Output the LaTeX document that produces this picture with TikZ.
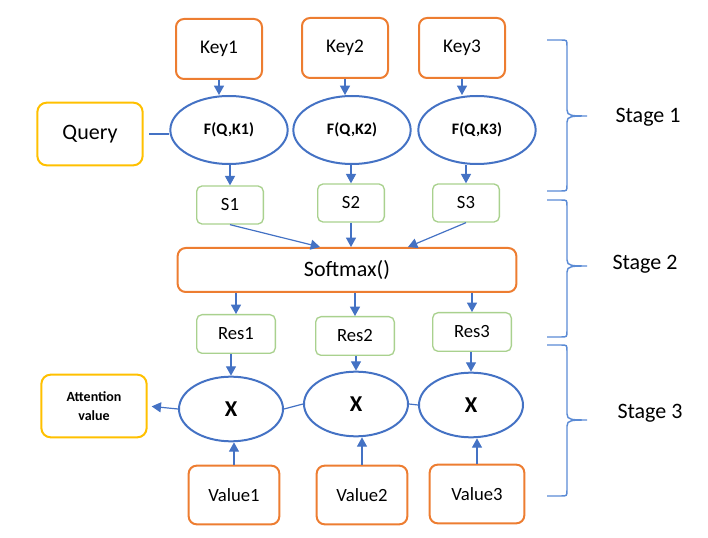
\documentclass[tikz,border=0pt]{standalone}
\usepackage{fontspec}
\setmainfont{Carlito}
\usetikzlibrary{shapes.geometric,arrows.meta,calc}
\definecolor{keyorange}{HTML}{ED7D31}
\definecolor{qyellow}{HTML}{FFC000}
\definecolor{sgreen}{HTML}{A9D18E}
\definecolor{lblue}{HTML}{4472C4}
\definecolor{bblue}{HTML}{5B8BD5}
\begin{document}
\begin{tikzpicture}[x=0.75pt,y=-0.75pt]
            \tikzstyle{inbox}=[draw=keyorange,line width=1.5pt,rounded corners=6pt,minimum width=64.5pt,minimum height=45pt,font=\fontsize{14.5}{16}\selectfont]
            \tikzstyle{outbox}=[draw=qyellow,line width=1.5pt,rounded corners=7pt,minimum width=79pt,minimum height=47pt,align=center]
            \tikzstyle{score}=[draw=sgreen,line width=1pt,rounded corners=4pt,minimum width=50pt,minimum height=28.5pt,font=\fontsize{14}{16}\selectfont]
            \tikzstyle{fun}=[ellipse,draw=lblue,line width=1.5pt,inner sep=0pt,minimum width=88pt,minimum height=51pt,font=\fontsize{12}{14}\selectfont\bfseries]
            \tikzstyle{mul}=[ellipse,draw=lblue,line width=1.5pt,inner sep=0pt,minimum width=78pt,minimum height=48.5pt,font=\fontsize{17}{19}\selectfont\bfseries]
            \tikzstyle{arr}=[draw=lblue,line width=0.9pt,-{Triangle[width=7.5pt,length=7pt]}]
            \tikzstyle{lin}=[draw=lblue,line width=0.9pt]
            \tikzstyle{stage}=[draw=bblue,line width=1.1pt]
            \tikzstyle{stagelbl}=[font=\fontsize{16.5}{19}\selectfont]
            \useasboundingbox (0,0) rectangle (708,538);
            \node[inbox] (key1) at (219,49) {Key1};
            \node[inbox] (key2) at (345,48) {Key2};
            \node[inbox] (key3) at (462,48) {Key3};
            \node[outbox,font=\fontsize{16.5}{19}\selectfont] (query) at (90,134) {Query};
            \node[fun] (f1) at (229,130) {F(Q,K1)};
            \node[fun] (f2) at (352,130) {F(Q,K2)};
            \node[fun] (f3) at (477,130) {F(Q,K3)};
            \node[score] (s1) at (230,205) {S1};
            \node[score] (s2) at (351,203) {S2};
            \node[score] (s3) at (466,203) {S3};
            \node[draw=keyorange,line width=1.5pt,rounded corners=6pt,minimum width=254pt,minimum height=33pt,font=\fontsize{16.5}{19}\selectfont] (sm) at (347,270) {Softmax()};
            \node[score,minimum width=59pt,minimum height=29pt] (r1) at (236,334) {Res1};
            \node[score,minimum width=59pt,minimum height=29pt] (r2) at (355,336) {Res2};
            \node[score,minimum width=59pt,minimum height=29pt] (r3) at (472,332) {Res3};
            \node[mul] (x1) at (231,409) {X};
            \node[mul] (x2) at (356,404) {X};
            \node[mul] (x3) at (471,405) {X};
            \node[outbox,font=\fontsize{10.5}{14}\selectfont\bfseries] (att) at (94,406) {Attention\\value};
            \node[inbox,minimum width=68pt,minimum height=44pt,font=\fontsize{14}{16}\selectfont] (v1) at (234,495) {Value1};
            \node[inbox,minimum width=68pt,minimum height=44pt,font=\fontsize{14}{16}\selectfont] (v2) at (362,495) {Value2};
            \node[inbox,minimum width=71pt,minimum height=44pt,font=\fontsize{14}{16}\selectfont] (v3) at (477,494) {Value3};
            \draw[lin,shorten <=4pt] (query.east) -- (query.east -| f1.west);
            \draw[arr] (key1.south) -- (key1.south |- f1.north);
            \draw[arr] (key2.south) -- (key2.south |- f2.north);
            \draw[arr] (key3.south) -- (key3.south |- f3.north);
            \draw[arr] (s1.north |- f1.south) -- (s1.north);
            \draw[arr] (s2.north |- f2.south) -- (s2.north);
            \draw[arr] (s3.north |- f3.south) -- (s3.north);
            \draw[arr] (s1.south) -- ($(sm.north)+(-27,0)$);
            \draw[arr] (s2.south) -- (s2.south |- sm.north);
            \draw[arr] (s3.south) -- ($(sm.north)+(61,0)$);
            \draw[arr] (sm.south -| r1) -- (r1.north);
            \draw[arr] (sm.south -| r2) -- (r2.north);
            \draw[arr] (sm.south -| r3) -- (r3.north);
            \draw[arr] (r1.south -| x1) -- (x1.north);
            \draw[arr] (r2.south -| x2) -- (x2.north);
            \draw[arr] (r3.south -| x3) -- (x3.north);
            \draw[arr] (v1.north) -- (v1.north |- x1.south);
            \draw[arr] (v2.north) -- (v2.north |- x2.south);
            \draw[arr] (v3.north) -- (v3.north |- x3.south);
            \draw[lin] (x1.east) -- (x2.west);
            \draw[lin] (x2.east) -- (x3.west);
            \draw[arr,shorten >=3pt] (x1.west) -- (att.east);
            \foreach \t/\m/\b in {40/116/191, 200/266/337, 345/420/496}
                \draw[stage] (547,\t) -- (561,\t) .. controls (567,\t) .. (567,\t+6) -- (567,\m-6)
                    .. controls (567,\m) and (572,\m) .. (587,\m) .. controls (572,\m) and (567,\m) .. (567,\m+6)
                    -- (567,\b-6) .. controls (567,\b) .. (561,\b) -- (547,\b);
            \node[stagelbl] (st1) at (648,117) {Stage 1};
            \node[stagelbl] (st2) at (645,264) {Stage 2};
            \node[stagelbl] (st3) at (650,413) {Stage 3};
        \end{tikzpicture}
\end{document}
